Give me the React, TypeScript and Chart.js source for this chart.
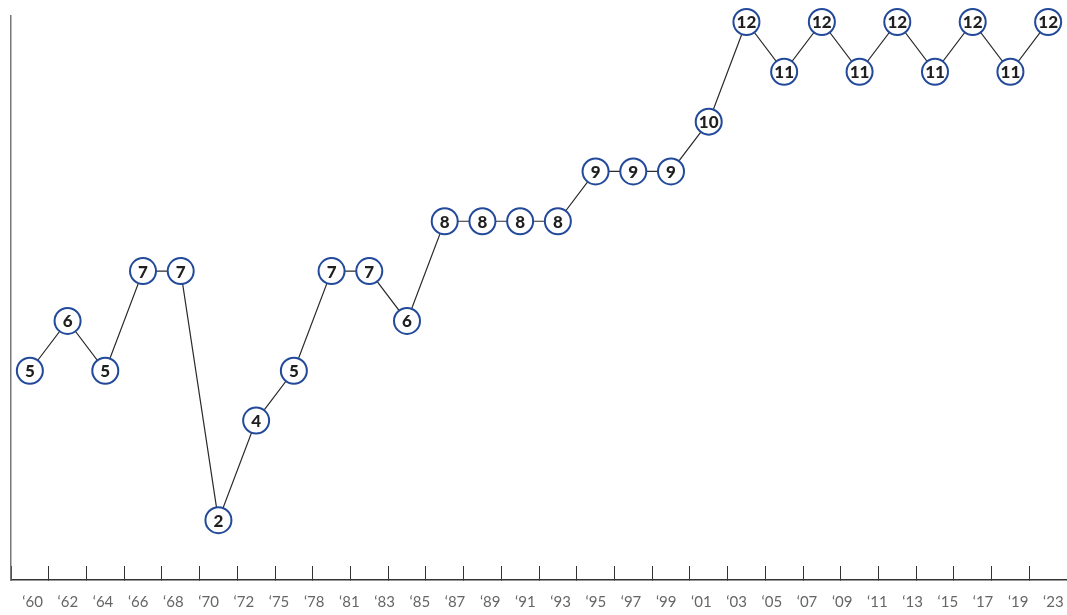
import React, { useEffect, useRef } from "react";
import { Chart, registerables } from "chart.js";

Chart.register(...registerables);

// 28 data points (one per period), values shown inside the circles
const pointLabels = [
  "p01", "p02", "p03", "p04", "p05", "p06", "p07", "p08", "p09", "p10",
  "p11", "p12", "p13", "p14", "p15", "p16", "p17", "p18", "p19", "p20",
  "p21", "p22", "p23", "p24", "p25", "p26", "p27", "p28",
];
const values = [
  5, 6, 5, 7, 7, 2, 4, 5, 7, 7, 6, 8, 8, 8, 8, 9, 9, 9, 10, 12, 11, 12, 11, 12, 11, 12, 11, 12,
];
// 30 year labels along the bottom axis
const tickLabels = [
  "‘60", "‘62", "‘64", "‘66", "‘68", "‘70", "‘72", "‘75", "‘78", "‘81",
  "‘83", "‘85", "‘87", "‘89", "‘91", "‘93", "‘95", "‘97", "‘99", "‘01",
  "‘03", "‘05", "‘07", "‘09", "‘11", "‘13", "‘15", "‘17", "‘19", "‘23",
];

const valueLabelPlugin = {
  id: "valueLabels",
  afterDatasetsDraw(chart: any) {
    const ctx = chart.ctx;
    const meta = chart.getDatasetMeta(0);
    const data = chart.data.datasets[0].data;
    ctx.save();
    ctx.font = "900 17px Lato";
    ctx.fillStyle = "#1f1f1f";
    ctx.textAlign = "center";
    ctx.textBaseline = "middle";
    meta.data.forEach((el: any, i: number) => {
      ctx.fillText(String(data[i]), el.x, el.y + 1);
    });
    ctx.restore();
  },
};

export default function App() {
  const ref = useRef<HTMLCanvasElement>(null);
  useEffect(() => {
    const chart = new Chart(ref.current!, {
      type: "line",
      data: {
        labels: pointLabels,
        datasets: [
          {
            data: values,
            borderColor: "#2a2a2a",
            borderWidth: 1.2,
            pointRadius: 13,
            pointHoverRadius: 13,
            pointBorderWidth: 2,
            pointBorderColor: "#22499a",
            pointBackgroundColor: "#fff",
            clip: false,
            tension: 0,
          } as any,
        ],
      },
      options: {
        responsive: false,
        animation: false,
        events: [],
        layout: { autoPadding: false, padding: { left: 11, right: 0, top: 16, bottom: 0.5 } },
        plugins: { legend: { display: false }, tooltip: { enabled: false } },
        scales: {
          x: {
            type: "category",
            position: "bottom",
            weight: 0,
            offset: true,
            grid: {
              display: true,
              offset: true,
              drawOnChartArea: false,
              drawTicks: true,
              tickLength: -14,
              color: "#333",
              lineWidth: 1,
            },
            border: { display: true, color: "#333", width: 1.5 },
            ticks: {
              display: true,
              callback: () => "",
              font: { size: 10, lineHeight: 1.2 },
              padding: 1,
              autoSkip: false,
              maxRotation: 0,
            },
          },
          x2: {
            type: "category",
            position: "bottom",
            weight: 1,
            labels: tickLabels,
            offset: true,
            grid: {
              display: true,
              drawOnChartArea: false,
              drawTicks: true,
              tickLength: 10.5,
              color: "rgba(0,0,0,0)",
            },
            border: { display: false },
            ticks: {
              color: "#666",
              font: { family: "Lato", size: 15, lineHeight: 1.2 },
              padding: 3,
              labelOffset: 4,
              maxRotation: 0,
              autoSkip: false,
            },
          } as any,
          y: {
            min: 0.8,
            max: 12.12,
            grid: { display: false, drawTicks: false },
            border: { display: true, color: "#777", width: 1.5 },
            ticks: { display: false },
          },
        },
      },
      plugins: [valueLabelPlugin],
    });
    return () => chart.destroy();
  }, []);
  return (
    <div style={{ position: "fixed", left: 0, top: 0, width: 1067, height: 615, overflow: "hidden" }}>
      <canvas ref={ref} width={1067} height={615} />
    </div>
  );
}
